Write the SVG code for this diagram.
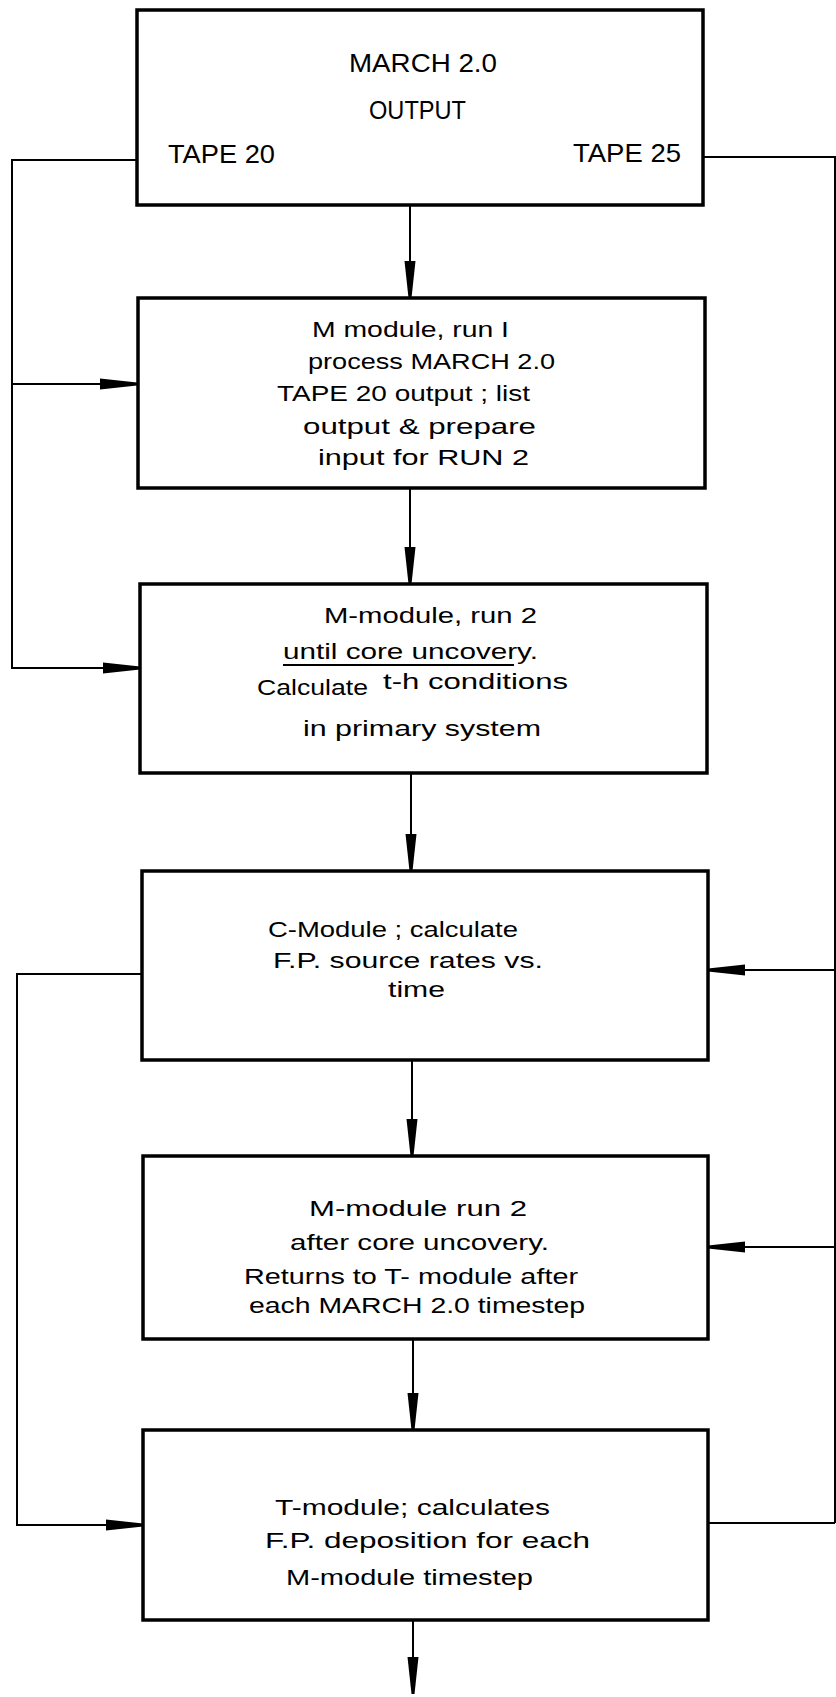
<svg xmlns="http://www.w3.org/2000/svg" width="836" height="1697" viewBox="0 0 836 1697">
<style>
.box{fill:#fff;stroke:#000;stroke-width:3.5}
.ln{fill:none;stroke:#000;stroke-width:2}
.t{font-family:"Liberation Sans",Arial,sans-serif;font-size:22px;fill:#000}
.t1{font-family:"Liberation Sans",Arial,sans-serif;font-size:25px;fill:#000}
</style>
<defs>
<marker id="spike" markerUnits="userSpaceOnUse" markerWidth="40" markerHeight="14" viewBox="0 -7 38 14" refX="37" refY="0" orient="auto">
<path d="M0,-5.5 L37,-1.5 L37,1.5 L0,5.5 Z" fill="#000"/>
</marker>
</defs>
<rect width="836" height="1697" fill="#fff"/>
<g id="connectors">
<path class="ln" d="M410,205 V298" marker-end="url(#spike)"/>
<path class="ln" d="M410,488 V584" marker-end="url(#spike)"/>
<path class="ln" d="M411,773 V871" marker-end="url(#spike)"/>
<path class="ln" d="M412,1060 V1156" marker-end="url(#spike)"/>
<path class="ln" d="M413,1339 V1430" marker-end="url(#spike)"/>
<path class="ln" d="M413,1620 V1694" marker-end="url(#spike)"/>
<path class="ln" d="M137,160 H12 V668 H140" marker-end="url(#spike)"/>
<path class="ln" d="M12,384 H137" marker-end="url(#spike)"/>
<path class="ln" d="M703,157 H835 V1523"/>
<path class="ln" d="M835,970 H708" marker-end="url(#spike)"/>
<path class="ln" d="M835,1247 H708" marker-end="url(#spike)"/>
<path class="ln" d="M708,1523 H835"/>
<path class="ln" d="M141,974 H17 V1525 H143" marker-end="url(#spike)"/>
</g>
<g id="n1">
<rect class="box" x="137" y="10" width="566" height="195"/>
<text class="t1" x="349" y="72" textLength="148" lengthAdjust="spacingAndGlyphs">MARCH 2.0</text>
<text class="t1" x="369" y="119" textLength="97" lengthAdjust="spacingAndGlyphs">OUTPUT</text>
<text class="t1" x="168" y="163" textLength="107" lengthAdjust="spacingAndGlyphs">TAPE 20</text>
<text class="t1" x="573" y="162" textLength="108" lengthAdjust="spacingAndGlyphs">TAPE 25</text>
</g>
<g id="n2">
<rect class="box" x="138" y="298" width="567" height="190"/>
<text class="t" x="312" y="337" textLength="197" lengthAdjust="spacingAndGlyphs">M module,  run I</text>
<text class="t" x="308" y="369" textLength="247" lengthAdjust="spacingAndGlyphs">process MARCH 2.0</text>
<text class="t" x="277" y="401" textLength="253" lengthAdjust="spacingAndGlyphs">TAPE 20 output ; list</text>
<text class="t" x="303" y="434" textLength="233" lengthAdjust="spacingAndGlyphs">output  &amp; prepare</text>
<text class="t" x="318" y="465" textLength="211" lengthAdjust="spacingAndGlyphs">input for RUN 2</text>
</g>
<g id="n3">
<rect class="box" x="140" y="584" width="567" height="189"/>
<text class="t" x="324" y="623" textLength="213" lengthAdjust="spacingAndGlyphs">M-module, run 2</text>
<text class="t" x="283" y="659" textLength="255" lengthAdjust="spacingAndGlyphs">until core uncovery.</text>
<line x1="283" y1="665" x2="514" y2="665" stroke="#000" stroke-width="2"/>
<text class="t" x="257" y="695" textLength="111" lengthAdjust="spacingAndGlyphs">Calculate</text>
<text class="t" x="383" y="689" textLength="185" lengthAdjust="spacingAndGlyphs">t-h conditions</text>
<text class="t" x="303" y="736" textLength="238" lengthAdjust="spacingAndGlyphs">in primary system</text>
</g>
<g id="n4">
<rect class="box" x="142" y="871" width="566" height="189"/>
<text class="t" x="268" y="937" textLength="250" lengthAdjust="spacingAndGlyphs">C-Module ; calculate</text>
<text class="t" x="273" y="968" textLength="270" lengthAdjust="spacingAndGlyphs">F.P.  source rates  vs.</text>
<text class="t" x="388" y="997" textLength="57" lengthAdjust="spacingAndGlyphs">time</text>
</g>
<g id="n5">
<rect class="box" x="143" y="1156" width="565" height="183"/>
<text class="t" x="309" y="1216" textLength="218" lengthAdjust="spacingAndGlyphs">M-module run  2</text>
<text class="t" x="290" y="1250" textLength="259" lengthAdjust="spacingAndGlyphs">after core uncovery.</text>
<text class="t" x="244" y="1284" textLength="334" lengthAdjust="spacingAndGlyphs">Returns to T- module after</text>
<text class="t" x="249" y="1313" textLength="336" lengthAdjust="spacingAndGlyphs">each MARCH 2.0  timestep</text>
</g>
<g id="n6">
<rect class="box" x="143" y="1430" width="565" height="190"/>
<text class="t" x="275" y="1515" textLength="275" lengthAdjust="spacingAndGlyphs">T-module; calculates</text>
<text class="t" x="265" y="1548" textLength="325" lengthAdjust="spacingAndGlyphs">F.P. deposition for  each</text>
<text class="t" x="286" y="1585" textLength="247" lengthAdjust="spacingAndGlyphs">M-module timestep</text>
</g>
</svg>
